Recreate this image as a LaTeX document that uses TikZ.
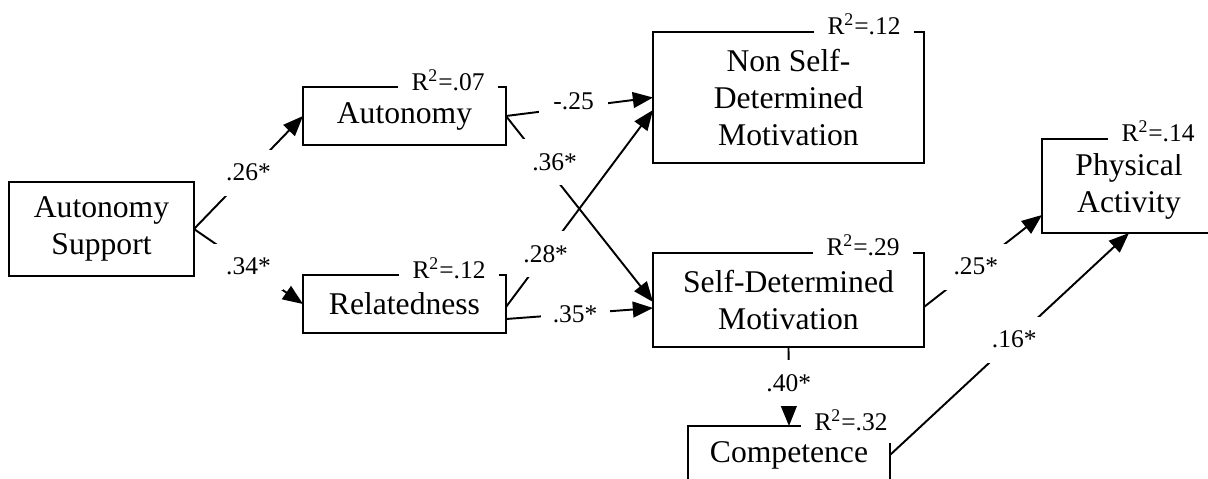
\documentclass[tikz,border=0pt]{standalone}
\usepackage{fontspec}
\setmainfont{Liberation Serif}
\usetikzlibrary{arrows.meta}
\newcommand{\boxfont}{\fontsize{18}{21}\selectfont}
\newcommand{\labfont}{\fontsize{14.5}{16}\selectfont}
\begin{document}
\begin{tikzpicture}[x=0.02cm,y=-0.02cm,inner sep=0pt,outer sep=0pt,line width=1.1pt,
>={Triangle[length=11.5pt,width=9pt]},
varblock/.style={draw,rectangle,align=center,font=\boxfont},
coef/.style={fill=white,minimum width=1.38cm,minimum height=0.92cm,font=\labfont},
rsq/.style={fill=white,minimum width=2cm,minimum height=0.92cm,font=\labfont}]

\useasboundingbox (0,0) rectangle (1208,478);

\draw (101.5,229) node[varblock,minimum width=3.7cm,minimum height=1.88cm] (AS) {Autonomy\\Support};
\draw (404.5,116) node[varblock,minimum width=4.06cm,minimum height=1.16cm] (Aut) {Autonomy};
\draw (404.5,304) node[varblock,minimum width=4.06cm,minimum height=1.16cm] (Rel) {Relatedness};
\draw (788.5,97.5) node[varblock,minimum width=5.42cm,minimum height=2.62cm] (NSDM) {Non Self-\\Determined\\Motivation};
\draw (788.5,300) node[varblock,minimum width=5.42cm,minimum height=1.88cm] (SDM) {Self-Determined\\Motivation};
\draw (789,455) node[varblock,minimum width=4.04cm,minimum height=1.16cm] (Comp) {Competence};
\draw (1129,186) node[varblock,minimum width=3.48cm,minimum height=1.88cm] (PA) {Physical\\Activity};

\draw[->] (AS.east) -- (Aut.west) node[coef,pos=0.5] {.26*};
\draw[->] (AS.east) -- (Rel.west) node[coef,pos=0.5] {.34*};
\draw[->] (Aut.east) -- (NSDM.west) node[coef,pos=0.46,yshift=0.12cm] {-.25};
\draw[->] (Aut.east) -- ([yshift=-0.04cm]SDM.west) node[coef,pos=0.28,xshift=0.15cm,yshift=0.12cm] {.36*};
\draw[->] ([yshift=-0.06cm]Rel.east) -- ([yshift=-0.25cm]NSDM.west) node[coef,pos=0.27] {.28*};
\draw[->] ([yshift=-0.3cm]Rel.east) -- ([yshift=-0.16cm]SDM.west) node[coef,pos=0.47] {.35*};
\draw[->] ([yshift=-0.14cm]SDM.east) -- ([yshift=0.36cm]PA.south west) node[coef,pos=0.44] {.25*};
\draw[->] (SDM.south) -- (Comp.north) node[coef,pos=0.46] {.40*};
\draw[->] (Comp.east) -- (PA.south) node[coef,pos=0.52] {.16*};

\draw (448,80) node[rsq] (R2Aut) {R\textsuperscript{2}=.07};
\draw (449,268) node[rsq] (R2Rel) {R\textsuperscript{2}=.12};
\draw (864,24) node[rsq] (R2NSDM) {R\textsuperscript{2}=.12};
\draw (863,245) node[rsq] (R2SDM) {R\textsuperscript{2}=.29};
\draw (851,420) node[rsq] (R2Comp) {R\textsuperscript{2}=.32};
\draw (1158,131) node[rsq] (R2PA) {R\textsuperscript{2}=.14};
\end{tikzpicture}
\end{document}
